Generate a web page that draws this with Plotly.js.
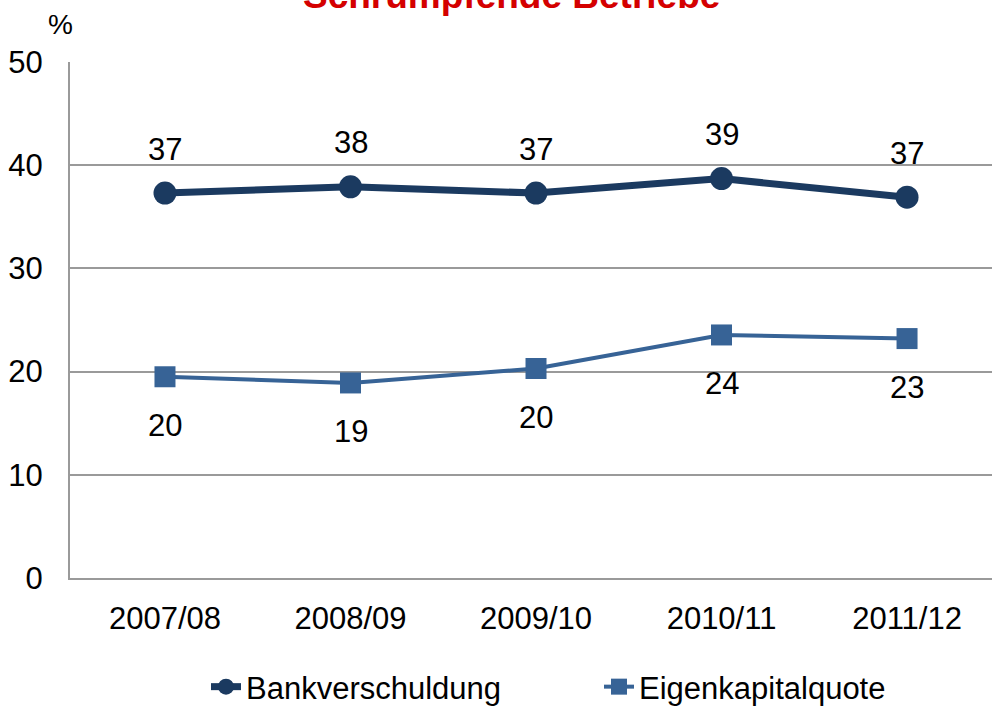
<!DOCTYPE html>
<html>
<head>
<meta charset="utf-8">
<script src="https://cdn.plot.ly/plotly-3.0.1.min.js"></script>
<style>html,body{margin:0;padding:0;background:#fff;} #chart{width:992px;height:707px;}</style>
</head>
<body>
<div id="chart"></div>
<script>
const categories = ["2007/08", "2008/09", "2009/10", "2010/11", "2011/12"];
const bankverschuldung = [37.3, 37.9, 37.3, 38.7, 36.9];
const eigenkapitalquote = [19.5, 18.9, 20.3, 23.55, 23.2];
const bankLabels = ["37", "38", "37", "39", "37"];
const eigenLabels = ["20", "19", "20", "24", "23"];
const yTicks = [0, 10, 20, 30, 40, 50];
const titleText = "Schrumpfende Betriebe";
const unitText = "%";

const FONT = "Liberation Sans, Arial, sans-serif";
const bankColor = "#1b3a60";
const eigenColor = "#376396";
const gridColor = "#9a9a9a";

const traces = [
  {
    x: categories, y: bankverschuldung, name: "Bankverschuldung",
    type: "scatter", mode: "lines+markers",
    line: {color: bankColor, width: 7},
    marker: {symbol: "circle", size: 23, color: bankColor},
    cliponaxis: false
  },
  {
    x: categories, y: eigenkapitalquote, name: "Eigenkapitalquote",
    type: "scatter", mode: "lines+markers",
    line: {color: eigenColor, width: 4},
    marker: {symbol: "square", size: 21, color: eigenColor},
    cliponaxis: false
  }
];

const annotations = [];
categories.forEach((c, i) => {
  annotations.push({x: c, y: bankverschuldung[i], xref: "x", yref: "y", text: bankLabels[i],
    showarrow: false, yshift: 44, font: {family: FONT, size: 31, color: "#000"}});
  annotations.push({x: c, y: eigenkapitalquote[i], xref: "x", yref: "y", text: eigenLabels[i],
    showarrow: false, yshift: -49, font: {family: FONT, size: 31, color: "#000"}});
});
annotations.push({text: "<b>" + titleText + "</b>", xref: "paper", yref: "paper",
  x: (511 - 70) / 922, y: (578 + 5) / 516, xanchor: "center", yanchor: "middle", showarrow: false,
  font: {family: FONT, size: 37, color: "#d40000"}});
annotations.push({text: unitText, xref: "paper", yref: "paper",
  x: (60 - 70) / 922, y: (578 - 24) / 516, xanchor: "center", yanchor: "middle", showarrow: false,
  font: {family: FONT, size: 28, color: "#000"}});

const layout = {
  width: 992, height: 707,
  margin: {l: 70, r: 0, t: 62, b: 129, pad: 0},
  paper_bgcolor: "#fff", plot_bgcolor: "#fff",
  font: {family: FONT, size: 31, color: "#000"},
  showlegend: true,
  legend: {orientation: "h", xref: "container", yref: "container",
    x: 206 / 992, xanchor: "left", y: (707 - 687) / 707, yanchor: "middle",
    font: {family: FONT, size: 31, color: "#000"}, entrywidth: 348, entrywidthmode: "pixels",
    bgcolor: "rgba(0,0,0,0)"},
  xaxis: {type: "category", range: [-0.512, 4.458], showgrid: false, zeroline: false,
    showline: true, linecolor: gridColor, linewidth: 2, ticks: "", ticklabelstandoff: 12,
    tickfont: {family: FONT, size: 31, color: "#000"}, fixedrange: true, automargin: false},
  yaxis: {range: [0, 50], tickvals: yTicks, ticktext: yTicks.map(String), showgrid: true,
    gridcolor: gridColor, gridwidth: 2, zeroline: false, showline: true, linecolor: gridColor,
    linewidth: 2, ticks: "", ticklabelstandoff: 19,
    tickfont: {family: FONT, size: 31, color: "#000"}, fixedrange: true, automargin: false},
  annotations: annotations
};

Plotly.newPlot("chart", traces, layout, {displayModeBar: false, staticPlot: true});
</script>
</body>
</html>
